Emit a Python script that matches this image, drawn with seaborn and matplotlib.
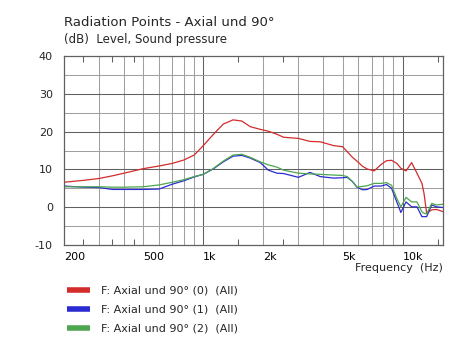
import numpy as np
import pandas as pd
import seaborn as sns
import matplotlib.pyplot as plt
from matplotlib.lines import Line2D
from matplotlib.ticker import FixedLocator, NullFormatter

freq = [200, 250, 300, 350, 400, 500, 600, 700, 800, 900, 1000, 1120, 1260, 1410,
        1560, 1720, 1930, 2120, 2340, 2530, 3000, 3430, 3860, 4500, 5000, 5270,
        5600, 5900, 6300, 6650, 7200, 7800, 8300, 8800, 9350, 9800, 10400, 11100,
        11800, 12500, 12800, 13200, 14000, 14800, 16000]

axial_0 = [6.6, 7.1, 7.6, 8.3, 9.0, 10.2, 10.9, 11.6, 12.5, 13.8, 16.3, 19.2, 22.0, 23.1,
           22.8, 21.3, 20.6, 20.1, 19.3, 18.5, 18.2, 17.4, 17.3, 16.3, 16.0, 14.7,
           13.2, 12.2, 10.8, 10.1, 9.6, 11.3, 12.3, 12.4, 11.6, 10.3, 9.6, 11.8,
           9.0, 6.3, 3.7, -1.6, -0.7, -0.6, -1.2]
axial_1 = [5.6, 5.3, 5.2, 4.7, 4.7, 4.7, 4.8, 6.1, 7.0, 8.0, 8.7, 10.1, 12.0, 13.5,
           13.7, 13.0, 11.8, 9.8, 9.0, 8.9, 7.9, 9.2, 8.1, 7.7, 7.8, 7.9,
           6.8, 5.3, 4.6, 4.7, 5.6, 5.6, 6.0, 5.0, 1.4, -1.4, 1.4, 0.1,
           0.1, -2.5, -2.5, -2.5, 0.6, 0.1, -0.1]
axial_2 = [5.4, 5.4, 5.4, 5.3, 5.3, 5.4, 5.9, 6.6, 7.3, 8.1, 8.7, 10.2, 12.2, 13.8,
           14.0, 13.2, 12.0, 11.2, 10.6, 9.8, 9.0, 8.8, 8.7, 8.5, 8.4, 8.1,
           6.8, 5.3, 5.5, 5.7, 6.3, 6.3, 6.5, 5.8, 2.3, 0.1, 2.6, 1.4,
           1.4, -1.2, -1.6, -1.8, 1.0, 0.6, 0.8]

labels = ["F: Axial und 90\u00b0 (0)  (All)",
          "F: Axial und 90\u00b0 (1)  (All)",
          "F: Axial und 90\u00b0 (2)  (All)"]
colors = ["#d42b2b", "#2b2bd4", "#4fa64f"]

xtick_pos = [200, 500, 1000, 2000, 5000, 10000]
xtick_txt = ["200", "500", "1k", "2k", "5k", "10k"]

df = pd.concat([
    pd.DataFrame({"freq": freq, "level": axial_0, "curve": labels[0]}),
    pd.DataFrame({"freq": freq, "level": axial_1, "curve": labels[1]}),
    pd.DataFrame({"freq": freq, "level": axial_2, "curve": labels[2]}),
])

sns.set_style("white")
plt.rcParams["font.family"] = ["DejaVu Sans"]
plt.rcParams["axes.unicode_minus"] = False

fig = plt.figure(figsize=(4.66, 3.61), dpi=100)
ax = fig.add_axes([64 / 466, 116 / 361, 379.3 / 466, 189 / 361])

sns.lineplot(data=df, x="freq", y="level", hue="curve", palette=colors,
             linewidth=0.9, legend=False, ax=ax)

ax.set_xscale("log")
ax.set_xlim(200, 16000)
ax.set_ylim(-10, 40)

# grid: dark at decades / 10 dB, light elsewhere
light = "#a0a0a0"
dark = "#606060"
for f in [300, 400, 500, 600, 700, 800, 900, 2000, 3000, 4000, 5000, 6000, 7000, 8000, 9000]:
    ax.axvline(f, color=light, lw=0.75, zorder=0)
for f in [1000, 10000]:
    ax.axvline(f, color=dark, lw=0.75, zorder=0)
for v in [-5, 5, 15, 25, 35]:
    ax.axhline(v, color=light, lw=0.75, zorder=0)
for v in [0, 10, 20, 30]:
    ax.axhline(v, color=dark, lw=0.75, zorder=0)

for s in ax.spines.values():
    s.set_color(dark)
    s.set_linewidth(0.9)

ax.xaxis.set_major_locator(FixedLocator(xtick_pos))
ax.set_xticklabels(xtick_txt, ha="left")
ax.xaxis.set_minor_locator(FixedLocator([250, 350, 450, 1500, 2500, 15000]))
ax.xaxis.set_minor_formatter(NullFormatter())
ax.tick_params(axis="x", which="major", length=0, pad=5, labelsize=8, labelcolor="black")
ax.tick_params(axis="x", which="minor", direction="in", length=4, top=True,
               bottom=True, color=dark, width=0.75)
ax.set_yticks([-10, 0, 10, 20, 30, 40])
ax.tick_params(axis="y", length=0, pad=8, labelsize=8)
ax.set_xlabel("")
ax.set_ylabel("")

fig.text(443 / 466, 1 - 268 / 361, "Frequency  (Hz)", ha="right", va="center", fontsize=8)
fig.text(64 / 466, 1 - 22 / 361, "Radiation Points - Axial und 90\u00b0", ha="left",
         va="center", fontsize=9.5)
fig.text(64 / 466, 1 - 39 / 361, "(dB)  Level, Sound pressure", ha="left",
         va="center", fontsize=8.5)

handles = [Line2D([0], [0], color=c, lw=4, solid_capstyle="butt") for c in colors]
fig.legend(handles, labels, loc="upper left", bbox_to_anchor=(62.5 / 466, 1 - 281 / 361),
           frameon=False, fontsize=8, handlelength=2.07, handletextpad=1.0,
           labelspacing=0.83, borderaxespad=0)

fig.savefig("out.png", dpi=100)
